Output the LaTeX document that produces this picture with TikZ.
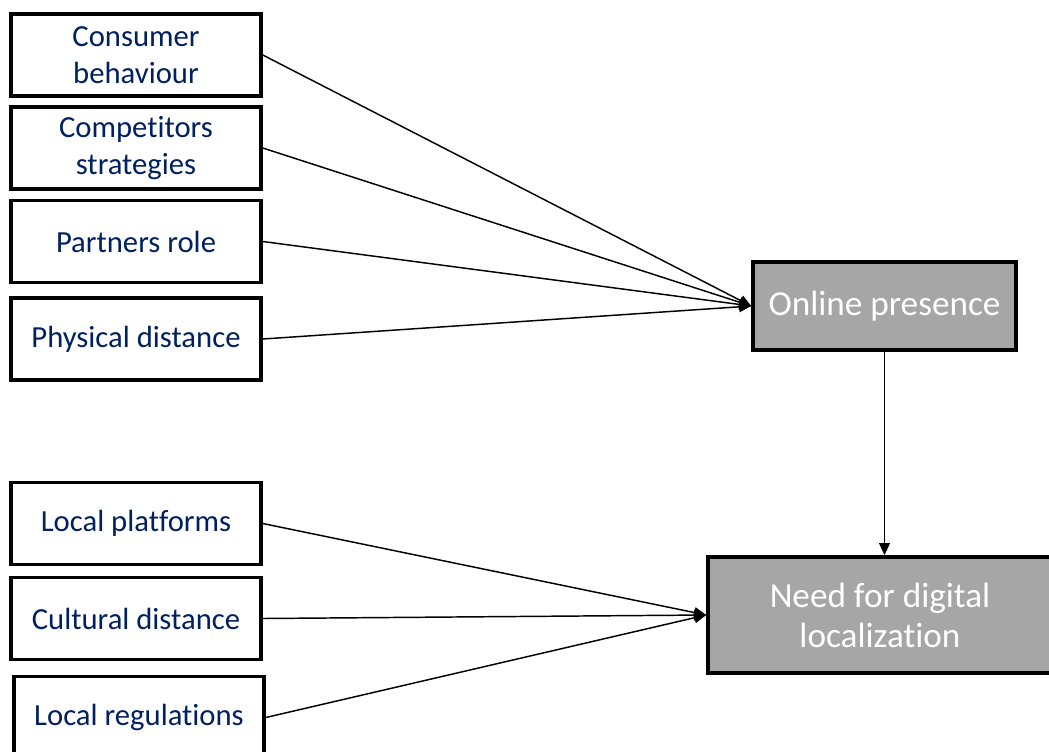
\documentclass[tikz,border=0pt]{standalone}
\usepackage{fontspec}
\setmainfont{Carlito}[Ligatures=NoCommon]
\usetikzlibrary{arrows.meta}
\definecolor{navyblue}{RGB}{0,32,96}
\definecolor{boxgray}{RGB}{166,166,166}

\tikzset{
  factor/.style={draw, line width=2.7pt, fill=white, text=navyblue, align=center,
    minimum width=250*0.75pt, minimum height=82*0.75pt, inner sep=0pt,
    font=\fontsize{23}{27.75}\selectfont},
  outcome/.style={draw, line width=2.7pt, fill=boxgray, text=white, align=center,
    inner sep=0pt, font=\fontsize{26.4}{30}\selectfont},
  conn/.style={line width=1.1pt, -{Triangle[length=9pt, width=8pt]}}
}

\begin{document}
\begin{tikzpicture}[x=0.75pt, y=-0.75pt]
    \useasboundingbox (0, 0) rectangle (1049, 751);

    % factors of online presence
    \node[factor] (consumer) at (136, 55) {Consumer\\behaviour};
    \node[factor] (competitors) at (136, 148) {Competitors\\strategies};
    \node[factor] (partners) at (136, 241.5) {Partners role};
    \node[factor] (physical) at (136, 339) {Physical distance};

    % factors of localization
    \node[factor] (platforms) at (136, 523.5) {Local platforms};
    \node[factor] (cultural) at (136, 618.5) {Cultural distance};
    \node[factor] (regulations) at (139, 717.5) {Local regulations};

    % outcomes
    \node[outcome, minimum width=263*0.75pt, minimum height=88*0.75pt] (online) at (884.5, 306) {Online presence};
    \node[outcome, minimum width=344*0.75pt, minimum height=116*0.75pt] (need) at (880, 615) {Need for digital\\localization};

    \draw[conn] (consumer.east) -- (online.west);
    \draw[conn] (competitors.east) -- (online.west);
    \draw[conn] (partners.east) -- (online.west);
    \draw[conn] (physical.east) -- (online.west);

    \draw[conn] (platforms.east) -- (need.west);
    \draw[conn] (cultural.east) -- (need.west);
    \draw[conn] (regulations.east) -- (need.west);

    \draw[conn] (online.south) -- (online.south |- need.north);
\end{tikzpicture}
\end{document}
